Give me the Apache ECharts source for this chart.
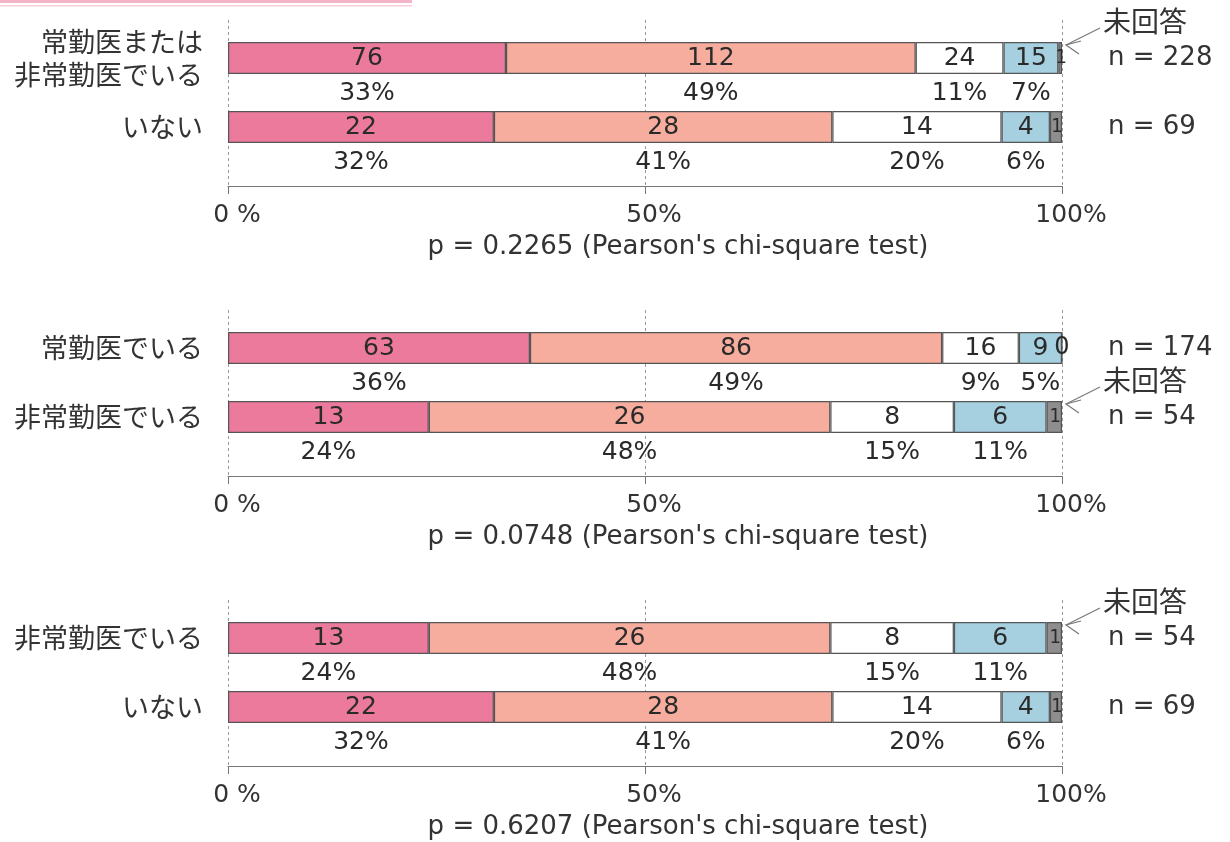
<!DOCTYPE html>
<html><head><meta charset="utf-8">
<script src="https://cdn.jsdelivr.net/npm/echarts@6/dist/echarts.min.js"></script>
<style>html,body{margin:0;padding:0;background:#fff}#c{width:1230px;height:842px}</style>
</head><body><div id="c"></div>
<script>
// ---- data ----
const segmentNames = ['pink', 'salmon', 'white', 'blue', '未回答'];
const p1Rows = ['常勤医または\n非常勤医でいる', 'いない'];
const p1NLabels = ['n = 228', 'n = 69'];
const p1Counts = [[76, 112, 24, 15, 1], [22, 28, 14, 4, 1]];
const p2Rows = ['常勤医でいる', '非常勤医でいる'];
const p2NLabels = ['n = 174', 'n = 54'];
const p2Counts = [[63, 86, 16, 9, 0], [13, 26, 8, 6, 1]];
const p3Rows = ['非常勤医でいる', 'いない'];
const p3NLabels = ['n = 54', 'n = 69'];
const p3Counts = [[13, 26, 8, 6, 1], [22, 28, 14, 4, 1]];
const pValues = ['0.2265', '0.0748', '0.6207'];
const xTicks = [0, 50, 100];
const xTickLabels = ['0 %', '50%', '100%'];
const noAnswerRow = [0, 1, 0]; // row in each panel that carries the 未回答 pointer

// ---- style ----
const colors = ['#ec7a9c', '#f7ad9d', '#ffffff', '#a6cfe0', '#8e8e8e'];
const NUM_FONT = 'DejaVu Sans';
const NARROW_FONT = "'Liberation Sans Narrow', 'DejaVu Sans Condensed', sans-serif";
const JP_FONT = "'Noto Sans CJK JP'";
const panels = [
  { rows: p1Rows, n: p1NLabels, counts: p1Counts },
  { rows: p2Rows, n: p2NLabels, counts: p2Counts },
  { rows: p3Rows, n: p3NLabels, counts: p3Counts }
];

const grid = [], xAxis = [], yAxis = [], series = [];
panels.forEach((pn, p) => {
  const dy = 290 * p;
  grid.push({ left: 228, right: 168, top: 20 + dy, height: 166 });
  grid.push({ left: 228, right: 168, top: 23.5 + dy, height: 138 });
  xAxis.push({
    gridIndex: 2 * p, type: 'value', min: 0, max: 100, interval: 50,
    axisLine: { show: true, lineStyle: { color: '#777', width: 1.2 } },
    axisTick: { show: true, length: 8, lineStyle: { color: '#777' } },
    axisLabel: {
      fontFamily: NUM_FONT, fontSize: 25, color: '#333', margin: 17,
      padding: [0, 0, 0, 18],
      formatter: v => xTickLabels[xTicks.indexOf(v)]
    },
    splitLine: { show: true, lineStyle: { type: [3, 3], color: '#9a9a9a', width: 1 } },
    name: 'p = ' + pValues[p] + " (Pearson's chi-square test)",
    nameLocation: 'middle', nameGap: 48,
    nameTextStyle: { fontFamily: NUM_FONT, fontSize: 26, color: '#333', padding: [0, 0, 0, 66] }
  });
  xAxis.push({ gridIndex: 2 * p + 1, type: 'value', min: 0, max: 100, show: false });
  yAxis.push({ gridIndex: 2 * p, type: 'value', show: false });
  yAxis.push({
    gridIndex: 2 * p + 1, type: 'category', inverse: true, data: pn.rows,
    axisLine: { show: false }, axisTick: { show: false },
    axisLabel: { fontFamily: JP_FONT, fontSize: 27, color: '#333', margin: 25, lineHeight: 33 }
  });
  yAxis.push({
    gridIndex: 2 * p + 1, type: 'category', inverse: true, position: 'right', data: pn.n,
    axisLine: { show: false }, axisTick: { show: false },
    axisLabel: { fontFamily: NUM_FONT, fontSize: 26, color: '#333', margin: 46 }
  });
  const totals = pn.counts.map(r => r.reduce((a, b) => a + b, 0));
  segmentNames.forEach((nm, s) => {
    const isNA = s === 4;
    series.push({
      type: 'bar', name: nm, xAxisIndex: 2 * p + 1, yAxisIndex: 3 * p + 1,
      stack: 'panel' + p, barWidth: 32,
      data: pn.counts.map((r, i) => {
        const item = { value: r[s] / totals[i] * 100 };
        if (isNA && r[s] === 0) {
          item.label = { offset: [0, 0], fontSize: 24, fontFamily: NUM_FONT };
        }
        return item;
      }),
      itemStyle: { color: colors[s], borderColor: '#555', borderWidth: 1.2 },
      label: {
        show: true, position: ['50%', '50%'], align: 'center', verticalAlign: 'middle',
        offset: isNA ? [1, 0] : [0, 17.5],
        fontFamily: isNA ? NARROW_FONT : NUM_FONT, fontSize: isNA ? 20 : 25,
        color: '#2a2a2a', lineHeight: 35,
        formatter: prm => {
          const c = pn.counts[prm.dataIndex][s];
          if (isNA) return String(c);
          return c + '\n' + Math.round(c / totals[prm.dataIndex] * 100) + '%';
        }
      }
    });
  });
});

const chart = echarts.init(document.getElementById('c'), null, { renderer: 'canvas' });
chart.setOption({
  animation: false, backgroundColor: '#ffffff',
  grid, xAxis, yAxis, series
});

// header decoration + 未回答 pointers placed from axis coordinates
const graphic = [
  { type: 'rect', shape: { x: 0, y: 0, width: 412, height: 3 }, style: { fill: '#f5b3c8' } },
  { type: 'rect', shape: { x: 0, y: 5, width: 412, height: 1.5 }, style: { fill: '#f9cfdc' } }
];
noAnswerRow.forEach((row, p) => {
  const pt = chart.convertToPixel({ xAxisIndex: 2 * p + 1, yAxisIndex: 3 * p + 1 }, [100, row]);
  const tipX = pt[0] + 4, tipY = pt[1] - 16 + 3;
  const sx = tipX + 34, sy = tipY - 17;
  const ln = { stroke: '#777', lineWidth: 1.2, fill: null };
  graphic.push({ type: 'line', shape: { x1: tipX, y1: tipY, x2: sx, y2: sy }, style: ln });
  graphic.push({ type: 'polyline', shape: { points: [[tipX + 15, tipY - 4], [tipX, tipY], [tipX + 13, tipY + 9]] }, style: ln });
  graphic.push({
    type: 'text', x: sx + 3, y: tipY - 24,
    style: { text: '未回答', fontFamily: JP_FONT, fontSize: 28, fill: '#333', verticalAlign: 'middle' }
  });
});
chart.setOption({ graphic });
</script></body></html>
